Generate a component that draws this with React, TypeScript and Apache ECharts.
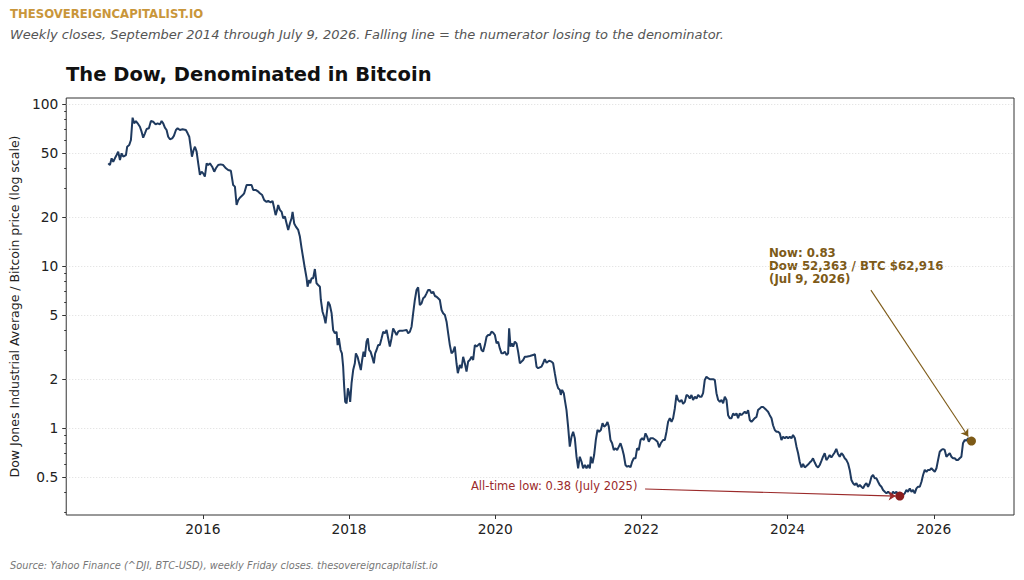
import React, { useEffect, useRef } from "react";
import * as echarts from "echarts";

// weekly closes (decimal years)
const dates = [
  2014.705, 2014.728, 2014.751, 2014.773, 2014.796, 2014.819, 2014.841, 2014.865, 2014.888, 2014.91,
  2014.947, 2014.964, 2014.992, 2015.015, 2015.038, 2015.06, 2015.083, 2015.107, 2015.138, 2015.161,
  2015.183, 2015.207, 2015.23, 2015.261, 2015.289, 2015.32, 2015.353, 2015.38, 2015.412, 2015.435,
  2015.457, 2015.48, 2015.503, 2015.525, 2015.549, 2015.58, 2015.603, 2015.631, 2015.654, 2015.685,
  2015.722, 2015.767, 2015.791, 2015.813, 2015.832, 2015.85, 2015.873, 2015.891, 2015.914, 2015.936,
  2015.959, 2015.982, 2016.004, 2016.027, 2016.051, 2016.073, 2016.096, 2016.127, 2016.155, 2016.178,
  2016.209, 2016.242, 2016.278, 2016.315, 2016.346, 2016.383, 2016.414, 2016.438, 2016.461, 2016.483,
  2016.506, 2016.538, 2016.565, 2016.598, 2016.633, 2016.666, 2016.688, 2016.721, 2016.748, 2016.78,
  2016.811, 2016.839, 2016.871, 2016.893, 2016.926, 2016.953, 2016.971, 2016.995, 2017.016, 2017.03,
  2017.053, 2017.077, 2017.098, 2017.122, 2017.145, 2017.167, 2017.19, 2017.213, 2017.227, 2017.249,
  2017.272, 2017.304, 2017.327, 2017.35, 2017.372, 2017.395, 2017.419, 2017.432, 2017.454, 2017.468,
  2017.487, 2017.509, 2017.532, 2017.555, 2017.577, 2017.601, 2017.614, 2017.637, 2017.659, 2017.678,
  2017.692, 2017.714, 2017.737, 2017.761, 2017.782, 2017.806, 2017.829, 2017.843, 2017.86, 2017.884,
  2017.902, 2017.919, 2017.933, 2017.947, 2017.966, 2017.984, 2018.001, 2018.015, 2018.034, 2018.056,
  2018.079, 2018.093, 2018.116, 2018.138, 2018.161, 2018.179, 2018.198, 2018.216, 2018.239, 2018.257,
  2018.275, 2018.294, 2018.316, 2018.339, 2018.357, 2018.376, 2018.398, 2018.421, 2018.445, 2018.467,
  2018.49, 2018.513, 2018.535, 2018.558, 2018.581, 2018.603, 2018.627, 2018.65, 2018.672, 2018.695,
  2018.74, 2018.787, 2018.808, 2018.832, 2018.855, 2018.877, 2018.9, 2018.923, 2018.945, 2018.968,
  2018.992, 2019.014, 2019.037, 2019.06, 2019.082, 2019.105, 2019.129, 2019.151, 2019.174, 2019.197,
  2019.219, 2019.242, 2019.265, 2019.287, 2019.311, 2019.334, 2019.356, 2019.379, 2019.402, 2019.424,
  2019.447, 2019.47, 2019.488, 2019.516, 2019.539, 2019.561, 2019.584, 2019.607, 2019.629, 2019.652,
  2019.676, 2019.698, 2019.721, 2019.744, 2019.789, 2019.812, 2019.834, 2019.858, 2019.881, 2019.903,
  2019.926, 2019.949, 2019.971, 2019.995, 2020.018, 2020.04, 2020.063, 2020.086, 2020.108, 2020.131,
  2020.155, 2020.176, 2020.19, 2020.209, 2020.227, 2020.245, 2020.268, 2020.291, 2020.313, 2020.337,
  2020.36, 2020.382, 2020.405, 2020.428, 2020.473, 2020.518, 2020.542, 2020.565, 2020.587, 2020.633,
  2020.655, 2020.678, 2020.702, 2020.737, 2020.77, 2020.792, 2020.815, 2020.839, 2020.861, 2020.884,
  2020.897, 2020.915, 2020.938, 2020.952, 2020.975, 2020.997, 2021.02, 2021.044, 2021.066, 2021.089,
  2021.112, 2021.134, 2021.157, 2021.181, 2021.202, 2021.226, 2021.249, 2021.271, 2021.294, 2021.308,
  2021.331, 2021.353, 2021.376, 2021.399, 2021.421, 2021.445, 2021.468, 2021.49, 2021.513, 2021.536,
  2021.554, 2021.577, 2021.599, 2021.622, 2021.646, 2021.668, 2021.691, 2021.714, 2021.736, 2021.759,
  2021.782, 2021.804, 2021.828, 2021.851, 2021.873, 2021.896, 2021.919, 2021.941, 2021.964, 2021.988,
  2022.01, 2022.033, 2022.056, 2022.078, 2022.101, 2022.124, 2022.159, 2022.193, 2022.22, 2022.242,
  2022.265, 2022.297, 2022.32, 2022.343, 2022.365, 2022.389, 2022.412, 2022.434, 2022.457, 2022.48,
  2022.502, 2022.525, 2022.549, 2022.57, 2022.594, 2022.617, 2022.639, 2022.662, 2022.685, 2022.707,
  2022.731, 2022.754, 2022.776, 2022.799, 2022.822, 2022.844, 2022.867, 2022.89, 2022.913, 2022.936,
  2022.959, 2022.981, 2023.004, 2023.027, 2023.05, 2023.073, 2023.096, 2023.118, 2023.141, 2023.164,
  2023.186, 2023.209, 2023.233, 2023.254, 2023.278, 2023.301, 2023.323, 2023.346, 2023.369, 2023.391,
  2023.414, 2023.438, 2023.46, 2023.483, 2023.506, 2023.528, 2023.551, 2023.574, 2023.596, 2023.62,
  2023.643, 2023.665, 2023.688, 2023.711, 2023.733, 2023.756, 2023.78, 2023.801, 2023.825, 2023.848,
  2023.87, 2023.893, 2023.916, 2023.938, 2023.962, 2023.985, 2024.007, 2024.03, 2024.053, 2024.075,
  2024.099, 2024.122, 2024.144, 2024.166, 2024.19, 2024.212, 2024.235, 2024.258, 2024.28, 2024.303,
  2024.326, 2024.348, 2024.372, 2024.395, 2024.417, 2024.44, 2024.463, 2024.485, 2024.508, 2024.531,
  2024.553, 2024.576, 2024.599, 2024.621, 2024.644, 2024.667, 2024.69, 2024.713, 2024.737, 2024.759,
  2024.782, 2024.805, 2024.827, 2024.85, 2024.873, 2024.896, 2024.919, 2024.942, 2024.965, 2024.988,
  2025.011, 2025.033, 2025.056, 2025.079, 2025.101, 2025.124, 2025.148, 2025.17, 2025.193, 2025.216,
  2025.238, 2025.261, 2025.284, 2025.306, 2025.33, 2025.353, 2025.375, 2025.398, 2025.421, 2025.443,
  2025.466, 2025.489, 2025.511, 2025.535, 2025.558, 2025.58, 2025.603, 2025.626, 2025.648, 2025.672,
  2025.695, 2025.717, 2025.74, 2025.763, 2025.785, 2025.809, 2025.832, 2025.854, 2025.877, 2025.9,
  2025.922, 2025.945, 2025.968, 2025.99, 2026.014, 2026.037, 2026.059, 2026.082, 2026.105, 2026.127,
  2026.15, 2026.173, 2026.195, 2026.219, 2026.242, 2026.264, 2026.287, 2026.31, 2026.332, 2026.355,
  2026.378, 2026.4, 2026.424, 2026.447, 2026.469, 2026.516,
];

// Dow / BTC ratio
const dowInBtc = [
  43.0, 42.0, 46.2, 44.0, 46.2, 48.4, 50.8, 45.1, 49.6, 47.3,
  48.4, 54.5, 55.8, 59.9, 82.3, 76.0, 78.5, 76.0, 72.4, 67.5,
  61.9, 65.9, 70.1, 70.8, 78.5, 77.7, 74.9, 76.0, 74.9, 78.5,
  76.0, 71.4, 69.1, 62.8, 60.6, 61.4, 63.5, 69.1, 70.8, 69.1,
  69.8, 69.1, 65.9, 62.8, 54.5, 47.3, 52.0, 54.5, 50.8, 43.0,
  36.5, 38.2, 37.3, 35.6, 43.0, 42.0, 43.0, 41.0, 38.2, 40.1,
  42.0, 42.4, 42.0, 40.1, 39.1, 38.7, 31.6, 30.9, 23.8, 25.5,
  26.4, 27.2, 28.1, 31.6, 31.6, 31.6, 29.5, 29.5, 29.0, 28.1,
  27.4, 25.5, 24.9, 25.2, 24.7, 25.2, 23.2, 20.6, 22.2, 23.8,
  22.2, 21.6, 19.7, 20.2, 18.3, 16.7, 18.3, 19.7, 21.6, 18.3,
  17.5, 16.7, 15.2, 12.9, 11.2, 9.68, 8.4, 7.45, 8.2, 7.82,
  8.4, 8.4, 9.58, 7.82, 7.63, 7.45, 6.17, 5.22, 4.86, 4.43,
  4.98, 6.02, 5.74, 5.11, 4.03, 3.84, 3.93, 3.25, 3.58, 3.03,
  2.89, 2.39, 1.8, 1.45, 1.42, 1.76, 1.64, 1.45, 1.89, 2.28,
  2.51, 2.89, 2.75, 2.51, 2.28, 2.63, 2.96, 2.75, 3.41, 3.58,
  3.03, 2.96, 2.75, 2.51, 2.89, 3.03, 3.25, 3.25, 3.58, 3.93,
  3.84, 4.03, 3.58, 3.18, 3.58, 4.12, 3.93, 3.75, 3.93, 3.99,
  3.99, 4.03, 3.84, 3.93, 4.22, 5.11, 6.17, 7.11, 7.39, 5.74,
  5.89, 6.32, 6.46, 6.78, 7.11, 7.11, 6.78, 6.94, 6.53, 6.46,
  6.32, 6.17, 5.35, 5.11, 4.98, 4.53, 3.84, 3.25, 2.89, 2.96,
  3.18, 2.51, 2.18, 2.45, 2.34, 2.75, 2.51, 2.23, 2.57, 2.63,
  2.75, 2.63, 3.25, 3.18, 3.33, 3.03, 2.96, 3.25, 3.66, 3.75,
  3.75, 3.93, 3.88, 3.75, 3.33, 3.41, 3.1, 2.89, 2.89, 2.96,
  2.82, 2.89, 4.12, 3.18, 3.33, 3.18, 3.41, 3.33, 2.96, 2.51,
  2.57, 2.63, 2.75, 2.75, 2.78, 2.82, 2.86, 2.39, 2.34, 2.39,
  2.51, 2.66, 2.53, 2.6, 2.57, 2.51, 2.18, 1.89, 1.76, 1.72,
  1.6, 1.72, 1.64, 1.49, 1.29, 1.02, 0.767, 0.884, 0.949, 0.864,
  0.665, 0.564, 0.665, 0.619, 0.564, 0.591, 0.564, 0.591, 0.564, 0.665,
  0.605, 0.681, 0.843, 0.972, 0.949, 0.972, 1.07, 1.02, 1.04, 1.09,
  1.02, 0.843, 0.805, 0.732, 0.749, 0.732, 0.767, 0.805, 0.749, 0.681,
  0.591, 0.577, 0.583, 0.572, 0.619, 0.65, 0.65, 0.749, 0.732, 0.843,
  0.864, 0.843, 0.927, 0.884, 0.823, 0.864, 0.864, 0.843, 0.823, 0.76,
  0.805, 0.843, 0.843, 0.949, 1.09, 1.15, 1.09, 1.15, 1.32, 1.6,
  1.49, 1.45, 1.49, 1.41, 1.45, 1.6, 1.58, 1.52, 1.6, 1.49,
  1.56, 1.52, 1.6, 1.56, 1.56, 1.64, 1.98, 2.07, 2.03, 2.0,
  2.0, 2.0, 1.98, 1.64, 1.49, 1.45, 1.49, 1.42, 1.56, 1.49,
  1.2, 1.15, 1.15, 1.23, 1.2, 1.23, 1.15, 1.23, 1.2, 1.23,
  1.26, 1.23, 1.29, 1.12, 1.09, 1.12, 1.15, 1.17, 1.29, 1.32,
  1.35, 1.35, 1.32, 1.29, 1.26, 1.2, 1.15, 1.04, 0.972, 0.949,
  0.949, 0.927, 0.843, 0.884, 0.864, 0.884, 0.864, 0.884, 0.864, 0.905,
  0.868, 0.767, 0.698, 0.619, 0.571, 0.6, 0.571, 0.583, 0.595, 0.612,
  0.626, 0.65, 0.612, 0.583, 0.571, 0.591, 0.626, 0.665, 0.698, 0.634,
  0.653, 0.681, 0.658, 0.681, 0.706, 0.744, 0.691, 0.665, 0.698, 0.681,
  0.65, 0.634, 0.605, 0.551, 0.478, 0.456, 0.445, 0.456, 0.434, 0.445,
  0.434, 0.424, 0.445, 0.456, 0.434, 0.456, 0.5, 0.513, 0.489, 0.489,
  0.466, 0.445, 0.434, 0.414, 0.404, 0.395, 0.404, 0.395, 0.386, 0.404,
  0.395, 0.404, 0.386, 0.38, 0.381, 0.386, 0.395, 0.414, 0.404, 0.424,
  0.404, 0.414, 0.395, 0.424, 0.434, 0.434, 0.466, 0.513, 0.551, 0.537,
  0.551, 0.551, 0.564, 0.551, 0.537, 0.564, 0.634, 0.714, 0.732, 0.742,
  0.732, 0.665, 0.681, 0.698, 0.665, 0.65, 0.65, 0.634, 0.634, 0.65,
  0.665, 0.805, 0.843, 0.835, 0.864, 0.83,
];

const yearTicks = [2016, 2018, 2020, 2022, 2024, 2026];
const majorTicks = [0.5, 1, 2, 5, 10, 20, 50, 100];
const minorTicks = [0.3, 0.4, 0.6, 0.7, 0.8, 0.9, 3, 4, 6, 7, 8, 9, 30, 40, 60, 70, 80, 90];

// annotation arrow tails (date, ratio)
const nowArrowFrom = [2025.14, 7.1];
const nowArrowTo = [2026.472, 0.886];
const lowArrowFrom = [2022.05, 0.42];
const lowArrowTo = [2025.48, 0.38];

const FONT = "DejaVu Sans";
const NAVY = "#1f3a5f";
const BROWN = "#7d5a17";
const RED = "#9b2a2a";

const lg = (v: number) => Math.log10(v);

const App = () => {
  const chartRef = useRef<HTMLDivElement>(null);

  useEffect(() => {
    document.body.style.margin = "0";
    const chart = echarts.init(chartRef.current as HTMLDivElement, null, { renderer: "svg" });

    const lineData = dates.map((d, i) => [d, lg(dowInBtc[i])]);
    let lowIdx = 0;
    dowInBtc.forEach((v, i) => {
      if (v < dowInBtc[lowIdx]) lowIdx = i;
    });
    const lastIdx = dowInBtc.length - 1;

    const yMin = -0.537;
    const yMax = 2.037;

    const option = {
      animation: false,
      backgroundColor: "#fff",
      textStyle: { fontFamily: FONT },
      grid: {
        left: 66,
        right: 10,
        top: 98,
        bottom: 65,
        show: true,
        borderColor: "#333",
        borderWidth: 1,
        backgroundColor: "transparent",
      },
      xAxis: {
        type: "value",
        min: 2014.13,
        max: 2027.098,
        axisLine: { show: false, onZero: false },
        splitLine: { show: false },
        axisTick: { customValues: yearTicks, length: 4, lineStyle: { color: "#333" } },
        axisLabel: {
          customValues: yearTicks,
          formatter: (v: number) => String(Math.round(v)),
          fontSize: 13.8,
          color: "#222",
          margin: 7,
        },
      },
      yAxis: [
        {
          type: "value",
          position: "left",
          min: yMin,
          max: yMax,
          name: "Dow Jones Industrial Average / Bitcoin price (log scale)",
          nameLocation: "middle",
          nameGap: 40,
          nameTextStyle: { fontSize: 12.5, color: "#222", fontFamily: FONT },
          axisLine: { show: false, onZero: false },
          axisTick: { customValues: majorTicks.map(lg), length: 4, lineStyle: { color: "#333" } },
          axisLabel: {
            customValues: majorTicks.map(lg),
            formatter: (v: number) => {
              const x = Math.pow(10, v);
              return String(x >= 1 ? Math.round(x) : Math.round(x * 10) / 10);
            },
            fontSize: 13.8,
            color: "#222",
            margin: 8,
          },
          splitLine: {
            show: true,
            lineStyle: { type: [1, 2], color: "#d4d4d4", width: 0.8 },
          },
        },
        {
          type: "value",
          position: "left",
          min: yMin,
          max: yMax,
          axisLine: { show: false, onZero: false },
          axisTick: { customValues: minorTicks.map(lg), length: 2, lineStyle: { color: "#333" } },
          axisLabel: { show: false },
          splitLine: { show: false },
        },
      ],
      series: [
        {
          type: "line",
          data: lineData,
          showSymbol: false,
          lineStyle: { color: NAVY, width: 2 },
          silent: true,
          z: 2,
        },
        {
          type: "scatter",
          data: [
            { value: [dates[lowIdx], lg(dowInBtc[lowIdx])], itemStyle: { color: "#8b1e1e", opacity: 1 } },
            { value: [dates[lastIdx], lg(dowInBtc[lastIdx])], itemStyle: { color: BROWN, opacity: 1 } },
          ],
          symbolSize: 9,
          silent: true,
          z: 4,
          markLine: {
            silent: true,
            animation: false,
            symbol: ["none", "arrow"],
            symbolSize: 7,
            label: { show: false },
            data: [
              [
                { coord: [nowArrowFrom[0], lg(nowArrowFrom[1])], lineStyle: { color: BROWN, width: 1.1, type: "solid" } },
                { coord: [nowArrowTo[0], lg(nowArrowTo[1])] },
              ],
              [
                { coord: [lowArrowFrom[0], lg(lowArrowFrom[1])], lineStyle: { color: RED, width: 1.1, type: "solid" } },
                { coord: [lowArrowTo[0], lg(lowArrowTo[1])] },
              ],
            ],
          },
        },
      ],
      graphic: [
        {
          type: "text",
          style: {
            text: "THESOVEREIGNCAPITALIST.IO",
            x: 10,
            y: 14,
            verticalAlign: "middle",
            fontFamily: FONT,
            fontWeight: "bold",
            fontSize: 11.7,
            fill: "#c9963a",
          },
        },
        {
          type: "text",
          style: {
            text: "Weekly closes, September 2014 through July 9, 2026. Falling line = the numerator losing to the denominator.",
            x: 10,
            y: 34,
            verticalAlign: "middle",
            fontFamily: FONT,
            fontStyle: "italic",
            fontSize: 13,
            fill: "#555",
          },
        },
        {
          type: "text",
          style: {
            text: "The Dow, Denominated in Bitcoin",
            x: 66,
            y: 74,
            verticalAlign: "middle",
            fontFamily: FONT,
            fontWeight: "bold",
            fontSize: 19.5,
            fill: "#111",
          },
        },
        {
          type: "text",
          style: {
            text: "Now: 0.83\nDow 52,363 / BTC $62,916\n(Jul 9, 2026)",
            x: 769,
            y: 246,
            verticalAlign: "top",
            lineHeight: 13,
            fontFamily: FONT,
            fontWeight: "bold",
            fontSize: 11.8,
            fill: BROWN,
          },
        },
        {
          type: "text",
          style: {
            text: "All-time low: 0.38 (July 2025)",
            x: 471,
            y: 486,
            verticalAlign: "middle",
            fontFamily: FONT,
            fontSize: 11.5,
            fill: RED,
          },
        },
        {
          type: "text",
          style: {
            text: "Source: Yahoo Finance (^DJI, BTC-USD), weekly Friday closes. thesovereigncapitalist.io",
            x: 10,
            y: 565,
            verticalAlign: "middle",
            fontFamily: FONT,
            fontStyle: "italic",
            fontSize: 9.8,
            fill: "#777",
          },
        },
      ],
    };

    chart.setOption(option as any);

    return () => {
      chart.dispose();
    };
  }, []);

  return <div ref={chartRef} style={{ width: "1024px", height: "580px" }} />;
};

export default App;
